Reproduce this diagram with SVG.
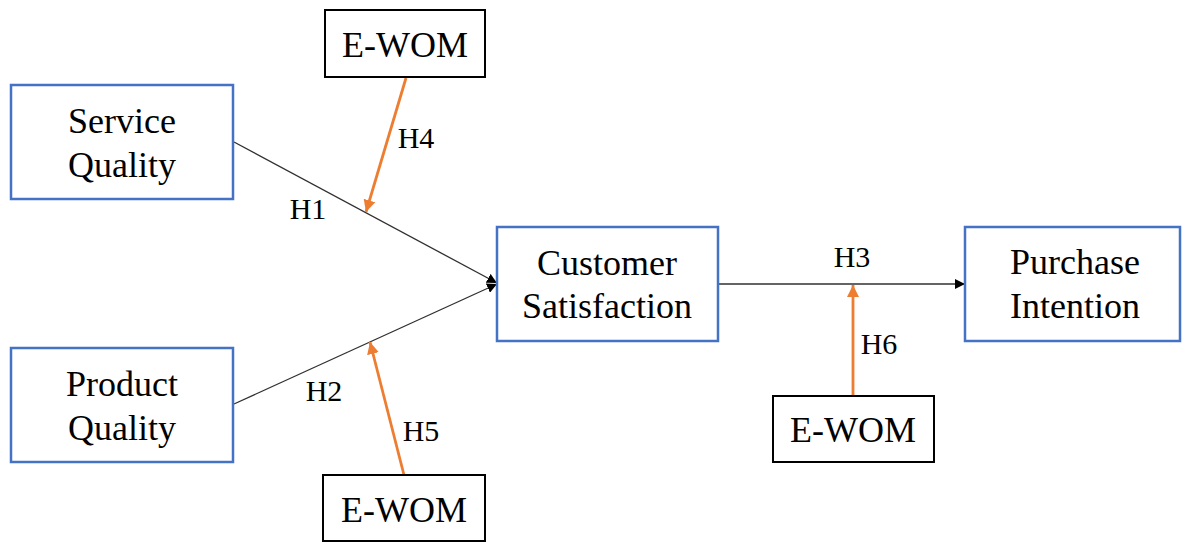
<svg xmlns="http://www.w3.org/2000/svg" width="1182" height="544" viewBox="0 0 1182 544">
<style>
.blue{fill:#fff;stroke:#4472C4;stroke-width:2.5}
.blk{fill:#fff;stroke:#000;stroke-width:2}
.t{font-family:"Liberation Serif","Times New Roman",serif;font-size:36px;fill:#000;text-anchor:middle}
.l{font-family:"Liberation Serif","Times New Roman",serif;font-size:30px;fill:#000;text-anchor:middle}
.ln{stroke:#303030;stroke-width:1.3;fill:none}
.or{stroke:#ED7D31;stroke-width:2.8;fill:none}
</style>
<defs>
<marker id="ab" viewBox="0 0 10 10" refX="10" refY="5" markerWidth="10" markerHeight="10" markerUnits="userSpaceOnUse" orient="auto"><path d="M0,0 L10,5 L0,10 z" fill="#000"/></marker>
<marker id="ao" viewBox="0 0 10 10" refX="10" refY="5" markerWidth="12" markerHeight="12" markerUnits="userSpaceOnUse" orient="auto"><path d="M0,0 L10,5 L0,10 z" fill="#ED7D31"/></marker>
</defs>
<g id="connectors">
<line class="ln" x1="234" y1="142" x2="497" y2="283" marker-end="url(#ab)"/>
<line class="ln" x1="234" y1="404" x2="497" y2="284" marker-end="url(#ab)"/>
<line class="ln" x1="718" y1="284" x2="965" y2="284" marker-end="url(#ab)"/>
<line class="or" x1="406" y1="78" x2="366" y2="212" marker-end="url(#ao)"/>
<line class="or" x1="404" y1="475" x2="370" y2="342" marker-end="url(#ao)"/>
<line class="or" x1="853" y1="396" x2="853" y2="285" marker-end="url(#ao)"/>
<text class="l" x="308" y="219">H1</text>
<text class="l" x="416" y="148">H4</text>
<text class="l" x="324" y="401">H2</text>
<text class="l" x="421" y="441">H5</text>
<text class="l" x="852" y="267">H3</text>
<text class="l" x="879" y="354">H6</text>
</g>
<g id="service-quality">
<rect class="blue" x="11" y="85" width="222" height="114"/>
<text class="t" x="122" y="133">Service</text>
<text class="t" x="122" y="177">Quality</text>
</g>
<g id="product-quality">
<rect class="blue" x="11" y="348" width="222" height="114"/>
<text class="t" x="122" y="396">Product</text>
<text class="t" x="122" y="440">Quality</text>
</g>
<g id="customer-satisfaction">
<rect class="blue" x="497" y="227" width="221" height="114"/>
<text class="t" x="607" y="275">Customer</text>
<text class="t" x="607" y="318">Satisfaction</text>
</g>
<g id="purchase-intention">
<rect class="blue" x="965" y="227" width="215" height="114"/>
<text class="t" x="1075" y="274">Purchase</text>
<text class="t" x="1075" y="318">Intention</text>
</g>
<g id="ewom-top">
<rect class="blk" x="325" y="10" width="160" height="67"/>
<text class="t" x="405" y="57">E-WOM</text>
</g>
<g id="ewom-bottom">
<rect class="blk" x="323" y="475" width="162" height="66"/>
<text class="t" x="404" y="522">E-WOM</text>
</g>
<g id="ewom-right">
<rect class="blk" x="773" y="396" width="161" height="66"/>
<text class="t" x="853" y="442">E-WOM</text>
</g>
</svg>
